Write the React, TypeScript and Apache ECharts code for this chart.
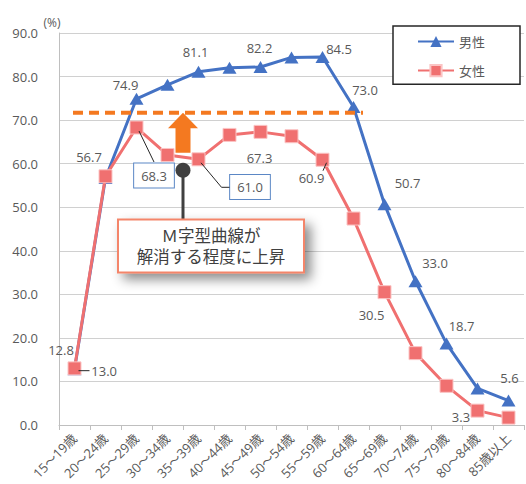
import React, { useEffect, useRef } from "react";
import * as echarts from "echarts";

// Age groups on the category axis
const ageGroups = [
  "15～19歳", "20～24歳", "25～29歳", "30～34歳", "35～39歳",
  "40～44歳", "45～49歳", "50～54歳", "55～59歳", "60～64歳",
  "65～69歳", "70～74歳", "75～79歳", "80～84歳", "85歳以上",
];

// Labour force participation rate (%)
const maleRates = [12.8, 56.7, 74.9, 78.1, 81.1, 82.0, 82.2, 84.4, 84.5, 73.0, 50.7, 33.0, 18.7, 8.4, 5.6];
const femaleRates = [13.0, 57.1, 68.3, 62.0, 61.0, 66.6, 67.3, 66.3, 60.9, 47.4, 30.5, 16.5, 9.0, 3.3, 1.7];

// Level the female curve is expected to reach
const targetLevel = 71.7;

const yTicks = { min: 0, max: 90, interval: 10 };

const FONT = "'Open Sans', 'Noto Sans CJK JP', sans-serif";
const TEXT = "#595959";
const BLUE = "#4472c4";
const RED = "#f07070";
const ORANGE = "#f47920";

// Label placement (pixel offsets from each marker centre)
const maleLabelOffsets: Record<number, [number, number]> = {
  0: [-13.5, -19],
  1: [-16.5, -21],
  2: [-11, -14],
  4: [-3, -19.4],
  6: [-1, -19],
  8: [16.5, -7.6],
  9: [11.5, -17],
  10: [23, -21],
  11: [19.5, -18],
  12: [15, -18],
  14: [1, -23],
};
const femaleLabelOffsets: Record<number, [number, number]> = {
  0: [29.7, 2.3],
  2: [17.5, 48],
  4: [51.5, 27.7],
  6: [-1, 26.5],
  8: [-11, 18.6],
  10: [-13, 23],
  13: [-16.5, 6.7],
};
// Female labels drawn inside a framed box
const boxedFemale = new Set([2, 4]);

const plainLabel = {
  fontFamily: FONT,
  fontSize: 13,
  color: TEXT,
  formatter: (p: any) => Number(p.value).toFixed(1),
};

function buildData(values: number[], offsets: Record<number, [number, number]>, boxed?: Set<number>) {
  return values.map((v, i) => {
    const off = offsets[i];
    if (!off) return { value: v, label: { show: false } };
    const label: any = { show: true, position: "inside", offset: off, ...plainLabel };
    if (boxed && boxed.has(i)) {
      Object.assign(label, {
        backgroundColor: "#ffffff",
        borderColor: "#5b87c5",
        borderWidth: 1,
        padding: [6, 7, 5, 7],
      });
    }
    return { value: v, label };
  });
}

export default function App() {
  const ref = useRef<HTMLDivElement>(null);

  useEffect(() => {
    if (!ref.current) return;
    const chart = echarts.init(ref.current, undefined, { renderer: "svg" });

    chart.setOption({
      animation: false,
      backgroundColor: "#ffffff",
      grid: { left: 59, right: 2, top: 33, bottom: 59, outerBoundsMode: "none", containLabel: false },
      legend: {
        orient: "vertical",
        left: 393,
        top: 26,
        width: 124,
        padding: [9, 35, 7, 24],
        itemWidth: 36,
        itemHeight: 14,
        itemGap: 16,
        borderColor: "#262626",
        borderWidth: 1.5,
        backgroundColor: "#ffffff",
        textStyle: { fontFamily: FONT, fontSize: 13, color: TEXT },
        data: ["男性", "女性"],
      },
      xAxis: {
        type: "category",
        data: ageGroups,
        boundaryGap: true,
        axisLine: { lineStyle: { color: "#bfbfbf", width: 1 } },
        axisTick: { show: true, length: 5, lineStyle: { color: "#bfbfbf" } },
        axisLabel: {
          rotate: 45,
          interval: 0,
          margin: 11,
          fontFamily: FONT,
          fontSize: 13,
          color: TEXT,
        },
      },
      yAxis: {
        type: "value",
        min: yTicks.min,
        max: yTicks.max,
        interval: yTicks.interval,
        axisLine: { show: true, lineStyle: { color: "#bfbfbf", width: 1 } },
        axisTick: { show: false },
        splitLine: { lineStyle: { color: "#d0d0d0", width: 1 } },
        axisLabel: {
          margin: 21,
          fontFamily: FONT,
          fontSize: 13,
          color: TEXT,
          formatter: (v: number) => v.toFixed(1),
        },
      },
      series: [
        {
          name: "男性",
          type: "line",
          data: buildData(maleRates, maleLabelOffsets),
          symbol: "triangle",
          symbolSize: [14, 12],
          lineStyle: { color: BLUE, width: 3 },
          itemStyle: { color: BLUE },
          z: 3,
        },
        {
          name: "女性",
          type: "line",
          data: buildData(femaleRates, femaleLabelOffsets, boxedFemale),
          symbol: "rect",
          symbolSize: 13,
          lineStyle: { color: RED, width: 3 },
          itemStyle: { color: RED, borderColor: "#fbc4c4", borderWidth: 1 },
          z: 4,
        },
      ],
    });

    const px = (s: number, i: number, v: number) =>
      chart.convertToPixel({ seriesIndex: s }, [i, v]) as number[];

    // leader lines from female markers to their labels
    const leaders: any[] = [];
    const f = (i: number) => px(1, i, femaleRates[i]);
    const lineStyle = { stroke: "#262626", lineWidth: 1 };
    {
      const p = f(0);
      leaders.push({ type: "line", shape: { x1: p[0] + 4, y1: p[1] + 2.3, x2: p[0] + 15, y2: p[1] + 2.3 }, style: lineStyle, z: 20 });
    }
    {
      const p = f(2);
      leaders.push({ type: "line", shape: { x1: p[0] + 2.5, y1: p[1] + 3.5, x2: p[0] + 17.5, y2: p[1] + 34.5 }, style: lineStyle, z: 20 });
    }
    {
      const p = f(4);
      leaders.push({
        type: "polyline",
        shape: { points: [[p[0] + 2.5, p[1] + 3.5], [p[0] + 23, p[1] + 28], [p[0] + 31, p[1] + 28]] },
        style: { ...lineStyle, fill: null },
        z: 20,
      });
    }
    {
      const p = f(8);
      leaders.push({ type: "line", shape: { x1: p[0] + 4, y1: p[1] + 3, x2: p[0] + 0.5, y2: p[1] + 11 }, style: lineStyle, z: 20 });
    }

    // target level, arrow and callout
    const start = px(0, 0, targetLevel);
    const end = px(0, 9, targetLevel);
    const c3 = px(0, 3, targetLevel);
    const c4 = px(0, 4, targetLevel);
    const ax = (c3[0] + c4[0]) / 2;
    const tipY = start[1];

    const boxX = 118, boxY = 219.5, boxW = 186, boxH = 53;
    const calloutText = {
      fontFamily: FONT,
      fontSize: 16.5,
      fill: "#404040",
      align: "center",
      verticalAlign: "middle",
    };

    chart.setOption({
      graphic: [
        ...leaders,
        {
          type: "line",
          shape: { x1: start[0] - 1.5, y1: tipY, x2: end[0] + 9.5, y2: tipY },
          style: { stroke: ORANGE, lineWidth: 4, lineDash: [10, 6] },
          z: 10,
        },
        {
          type: "polygon",
          shape: {
            points: [
              [ax, tipY],
              [ax + 15, tipY + 15.5],
              [ax + 7.5, tipY + 15.5],
              [ax + 7.5, tipY + 40],
              [ax - 7.5, tipY + 40],
              [ax - 7.5, tipY + 15.5],
              [ax - 15, tipY + 15.5],
            ],
          },
          style: { fill: ORANGE },
          z: 12,
        },
        {
          type: "line",
          shape: { x1: ax, y1: tipY + 57, x2: ax, y2: boxY },
          style: { stroke: "#404040", lineWidth: 3 },
          z: 12,
        },
        {
          type: "circle",
          shape: { cx: ax, cy: tipY + 57.5, r: 7.5 },
          style: { fill: "#404040" },
          z: 13,
        },
        {
          type: "rect",
          shape: { x: boxX, y: boxY, width: boxW, height: boxH },
          style: {
            fill: "#ffffff",
            stroke: "#f4856b",
            lineWidth: 2,
            shadowBlur: 12,
            shadowOffsetX: 6,
            shadowOffsetY: 6,
            shadowColor: "rgba(0,0,0,0.45)",
          },
          z: 14,
        },
        {
          type: "text",
          x: boxX + boxW / 2,
          y: boxY + 16,
          style: { text: "Ｍ字型曲線が", ...calloutText },
          z: 15,
        },
        {
          type: "text",
          x: boxX + boxW / 2,
          y: boxY + 36.5,
          style: { text: "解消する程度に上昇", ...calloutText },
          z: 15,
        },
        {
          type: "text",
          x: 52,
          y: 22,
          style: {
            text: "(%)",
            fontFamily: FONT,
            fontSize: 12,
            fill: TEXT,
            align: "center",
            verticalAlign: "middle",
          },
        },
      ],
    });

    return () => chart.dispose();
  }, []);

  return <div ref={ref} style={{ width: 526, height: 484, position: "absolute", left: 0, top: 0 }} />;
}
